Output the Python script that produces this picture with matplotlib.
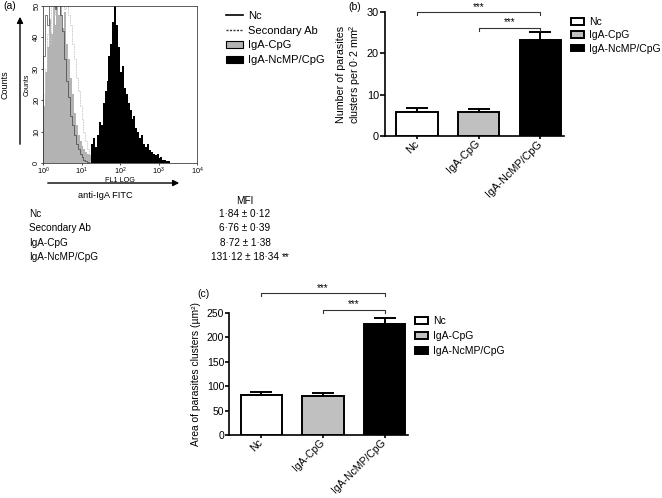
import numpy as np
import matplotlib
matplotlib.use('Agg')
import matplotlib.pyplot as plt
from matplotlib.lines import Line2D
from matplotlib.patches import Patch, FancyArrowPatch
from matplotlib.ticker import NullLocator

plt.rcParams['font.family'] = ['Liberation Sans', 'DejaVu Sans']
plt.rcParams['mathtext.fontset'] = 'custom'
plt.rcParams['mathtext.rm'] = 'Liberation Sans'
plt.rcParams['mathtext.it'] = 'Liberation Sans:italic'
plt.rcParams['mathtext.bf'] = 'Liberation Sans:bold'

# (a) flow cytometry, FL1 channel binned every 0.05 log10 units starting at 10^0
fl1_log_edges = np.round(np.arange(0, 3.41, 0.05), 2)
nc_counts = [34, 47, 44, 55, 52, 58, 49, 55, 53, 47, 42, 33,
             26, 21, 15, 12, 9, 6, 4.5, 3, 2, 1, 0.5, 0.3] + [0] * 44
secondary_counts = [22, 30, 41, 38, 52, 47, 55, 50, 56, 52, 55, 49, 53, 47,
                    44, 38, 33, 27, 23, 18, 14, 10, 7, 4.5, 3, 1.5, 0.5] + [0] * 41
igacpg_counts = [18, 29, 37, 46, 41, 53, 44, 50, 47, 55, 43, 48, 38, 33,
                 27, 22, 16, 12, 9, 7, 5.5, 4.5, 3.5, 3, 2.5, 2, 1.2, 0.6] + [0] * 40
ncmp_counts = [0] * 25 + [6, 8, 5, 9, 13, 12, 19, 23, 26, 34, 38, 45, 54, 44, 37,
                          29, 31, 24, 22, 19, 17, 14, 15, 11, 10, 8, 9, 6, 5, 6,
                          4, 3.5, 3, 2.5, 3, 1.5, 2, 1, 1, 0.5, 0.5] + [0] * 2
hist_labels = ['Nc', 'Secondary Ab', 'IgA-CpG', 'IgA-NcMP/CpG']

mfi_groups = ['Nc', 'Secondary Ab', 'IgA-CpG', 'IgA-NcMP/CpG']
mfi_values = ['1·84 ± 0·12', '6·76 ± 0·39', '8·72 ± 1·38', '131·12 ± 18·34']
mfi_marks = ['', '', '', '**']

# (b) and (c) bar charts
categories = ['Nc', 'IgA-CpG', 'IgA-NcMP/CpG']
bar_colors = ['white', '#c0c0c0', 'black']
clusters_mean = [5.85, 5.7, 23.2]
clusters_err = [0.8, 0.7, 2.0]
area_mean = [82.4, 80.4, 226.8]
area_err = [4.8, 5.4, 12.2]
sig_pairs = [(0, 2), (1, 2)]

W, H = 662, 498
fig = plt.figure(figsize=(6.62, 4.98), dpi=100)


def fx(x):
    return x / W


def fy(y):
    return 1 - y / H


def box(l, t, r, b):
    return [l / W, 1 - b / H, (r - l) / W, (b - t) / H]


# ---- (a) histogram ----
ax_a = fig.add_axes(box(43, 6, 197, 163))
edges = 10 ** fl1_log_edges
ax_a.stairs(igacpg_counts, edges, fill=True, color='#b3b3b3', lw=0)
ax_a.stairs(secondary_counts, edges, color='0.78', lw=0.6, ls=(0, (2, 1)))
ax_a.stairs(nc_counts, edges, color='0.2', lw=0.45)
ax_a.stairs(ncmp_counts, edges, fill=True, color='black', lw=0)
ax_a.set_xscale('log')
ax_a.set_xlim(1, 1e4)
ax_a.set_ylim(0, 50)
ax_a.set_yticks(range(0, 51, 10))
ax_a.xaxis.set_minor_locator(NullLocator())
ax_a.tick_params(labelsize=5.2, length=1.5, width=0.5, pad=0.5)
ax_a.tick_params(axis='y', labelrotation=90)
for lab in ax_a.get_yticklabels():
    lab.set_va('center')
for s in ax_a.spines.values():
    s.set_linewidth(0.6)
    s.set_color('0.25')
ax_a.set_xlabel('FL1 LOG', fontsize=5.2, labelpad=0)
ax_a.set_ylabel('Counts', fontsize=5, labelpad=2)

hist_handles = [Line2D([], [], color='black', lw=1.2),
                Line2D([], [], color='0.2', lw=1, ls=(0, (1.5, 1))),
                Patch(facecolor='#b3b3b3', edgecolor='black', lw=0.8),
                Patch(facecolor='black', edgecolor='black', lw=0.8)]
fig.legend(hist_handles, hist_labels, loc='upper left', bbox_to_anchor=(fx(226), fy(11)),
           frameon=False, fontsize=8, handlelength=1.5, handleheight=0.6,
           handletextpad=0.5, labelspacing=0.42, borderpad=0, borderaxespad=0)

fig.add_artist(FancyArrowPatch((fx(20), fy(147)), (fx(20), fy(14)), transform=fig.transFigure,
                               arrowstyle='-|>', mutation_scale=9, lw=1, color='black'))
fig.add_artist(FancyArrowPatch((fx(45), fy(183)), (fx(182), fy(183)), transform=fig.transFigure,
                               arrowstyle='-|>', mutation_scale=9, lw=1, color='black'))
fig.text(fx(5), fy(85), 'Counts', rotation=90, fontsize=6.5, ha='center', va='center')
fig.text(fx(105), fy(196), 'anti-IgA FITC', fontsize=6.7, ha='center', va='center')
fig.text(fx(10), fy(6), '(a)', fontsize=7.5, ha='center', va='center')

# MFI table
fig.text(fx(245), fy(201), 'MFI', fontsize=7.2, ha='center', va='center')
for i in range(len(mfi_groups)):
    y = 214.3 + 14.1 * i
    fig.text(fx(29), fy(y), mfi_groups[i], fontsize=7.2, ha='left', va='center')
    t = fig.text(fx(245), fy(y), mfi_values[i], fontsize=7.2, ha='center', va='center')
    if mfi_marks[i]:
        ax_a.annotate(mfi_marks[i], xy=(1, 0.5), xycoords=t, xytext=(2, 0),
                      textcoords='offset points', fontsize=7.2, ha='left', va='center',
                      annotation_clip=False)


def bar_panel(ax, means, errs, top, yticks, sig_h, fs, tick_len):
    x = np.arange(len(categories))
    ax.errorbar(x, means, yerr=[[0] * len(errs), errs], fmt='none', ecolor='black',
                elinewidth=1.4, capsize=8, capthick=1.4, zorder=2)
    bars = ax.bar(x, means, width=0.67, color=bar_colors, edgecolor='black',
                  linewidth=1.4, zorder=3)
    ax.set_xlim(-0.52, 2.38)
    ax.set_ylim(0, top)
    ax.set_yticks(yticks)
    ax.set_xticks(x)
    ax.set_xticklabels(categories, rotation=45, ha='right', va='center',
                       rotation_mode='anchor', fontsize=fs)
    ax.tick_params(axis='y', labelsize=fs, length=tick_len, width=1.2, pad=1)
    ax.tick_params(axis='x', length=2.5, width=1.2, pad=2)
    for side in ['top', 'right']:
        ax.spines[side].set_visible(False)
    for side in ['left', 'bottom']:
        ax.spines[side].set_linewidth(1.2)
    tr = ax.get_xaxis_transform()
    for (a, b), h in zip(sig_pairs, sig_h):
        ax.plot([a, a, b, b], [h - 0.025, h, h, h - 0.025], color='0.2', lw=0.8,
                transform=tr, clip_on=False)
        ax.text((a + b) / 2, h + 0.005, '***', transform=tr, fontsize=7, ha='center',
                va='bottom')
    return bars


# ---- (b) ----
ax_b = fig.add_axes(box(385, 12.3, 563.6, 135.7))
bars_b = bar_panel(ax_b, clusters_mean, clusters_err, 30, [0, 10, 20, 30], [1.0, 0.875], 7.8, 3.4)
ax_b.set_ylabel('Number of parasites\nclusters per 0·2 mm$^2$', fontsize=7.7, labelpad=3,
                linespacing=1.1)
ax_b.legend(bars_b.patches, categories, loc='upper left', bbox_to_anchor=(fx(571), fy(17)),
            bbox_transform=fig.transFigure, frameon=False, fontsize=7.5, handlelength=1.2,
            handleheight=0.65, handletextpad=0.5, labelspacing=0.32, borderpad=0,
            borderaxespad=0)
fig.text(fx(355), fy(7), '(b)', fontsize=7.5, ha='center', va='center')

# ---- (c) ----
ax_c = fig.add_axes(box(229.3, 312.7, 408, 435))
bars_c = bar_panel(ax_c, area_mean, area_err, 250, [0, 50, 100, 150, 200, 250],
                   [1.158, 1.022], 7.5, 2.7)
ax_c.set_ylabel('Area of parasites clusters (µm²)', fontsize=7.4, labelpad=4)
ax_c.legend(bars_c.patches, categories, loc='upper left', bbox_to_anchor=(fx(415), fy(316)),
            bbox_transform=fig.transFigure, frameon=False, fontsize=7.5, handlelength=1.2,
            handleheight=0.65, handletextpad=0.5, labelspacing=0.5, borderpad=0,
            borderaxespad=0)
fig.text(fx(203), fy(294), '(c)', fontsize=7.5, ha='center', va='center')

fig.savefig('out.png', dpi=100)
